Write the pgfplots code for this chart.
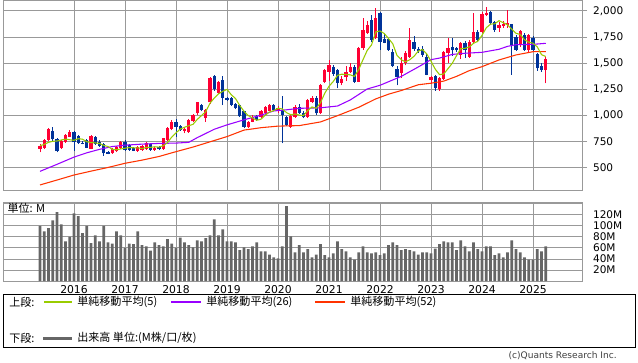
\documentclass[border=0pt]{standalone}
\usepackage{pgfplots}
\pgfplotsset{compat=1.18}
\usepackage{pgfplotstable}
\usepackage{fontspec}
\setmainfont{DejaVu Sans}
\newfontfamily\jp{Noto Sans CJK JP}
\definecolor{upred}{HTML}{FF0033}
\definecolor{dnblue}{HTML}{003399}
\definecolor{maA}{HTML}{99CC00}
\definecolor{maB}{HTML}{9900FF}
\definecolor{maC}{HTML}{FF3300}
\definecolor{gridc}{HTML}{999999}
\definecolor{volc}{HTML}{666666}

% up (red) candles
\pgfplotstableread{
i o h l c
0 685 730 650 712
1 690 775 680 768
2 768 880 760 875
5 690 770 680 755
6 750 825 740 815
7 800 860 795 845
12 685 815 680 805
17 640 690 635 678
18 665 710 655 703
19 688 760 680 752
23 665 712 655 704
24 672 715 665 710
25 681 745 675 736
27 672 700 665 694
29 681 790 675 783
30 768 890 760 880
31 870 960 860 940
34 855 880 830 870
35 842 965 835 955
36 945 1015 935 1005
37 1024 1130 1010 1126
39 976 1060 944 1056
40 1126 1370 1110 1360
42 1220 1335 1210 1325
49 890 950 885 944
50 940 1010 935 990
52 990 1050 975 1040
53 1030 1090 1010 1085
54 1045 1110 1040 1100
56 1043 1090 1030 1075
59 895 1010 880 1000
60 990 1100 980 1086
63 990 1160 980 1150
64 1134 1190 1125 1172
66 1030 1300 1020 1290
67 1325 1445 1310 1436
68 1420 1532 1330 1484
71 1315 1380 1290 1347
72 1373 1470 1330 1420
73 1420 1500 1410 1468
75 1325 1655 1320 1643
76 1643 1930 1630 1818
77 1787 1900 1780 1866
79 1739 2025 1730 1930
85 1410 1560 1360 1500
86 1500 1620 1480 1600
87 1564 1835 1550 1723
92 1340 1380 1300 1373
94 1252 1370 1240 1357
95 1347 1620 1340 1611
96 1596 1740 1500 1643
99 1580 1700 1540 1691
101 1564 1720 1555 1707
102 1707 1978 1690 1803
104 1800 1990 1790 1975
105 1960 2035 1950 1985
108 1840 1890 1800 1870
109 1860 1900 1840 1880
110 1870 2010 1840 1885
113 1675 1820 1660 1809
115 1627 1780 1600 1771
119 1436 1564 1309 1538
}\up

% down (blue) candles
\pgfplotstableread{
i o h l c
3 858 890 750 775
4 775 785 650 662
8 840 850 660 745
9 805 815 730 740
10 742 755 725 730
11 765 775 690 695
13 795 805 720 728
14 752 765 705 713
15 728 735 615 640
16 650 660 630 638
20 752 770 665 672
21 720 730 665 672
22 688 700 660 665
26 729 735 665 672
28 704 710 670 681
32 935 968 800 895
33 905 915 855 862
38 1104 1115 1040 1050
41 1375 1385 1240 1250
43 1340 1375 1100 1170
44 1168 1175 1140 1150
45 1168 1180 1095 1104
46 1110 1120 1060 1070
47 1100 1105 985 992
48 1040 1045 880 896
51 1000 1010 950 960
55 1100 1110 1045 1055
57 1054 1188 736 1006
58 990 1000 900 911
61 1080 1110 1015 1022
62 1022 1040 975 984
65 1172 1185 1010 1022
69 1468 1485 1380 1398
70 1436 1450 1260 1315
74 1468 1480 1310 1325
78 1914 1962 1700 1723
80 1978 1994 1627 1707
81 1730 1780 1690 1698
82 1730 1745 1620 1627
83 1611 1640 1460 1475
84 1450 1470 1290 1370
88 1707 1760 1620 1640
89 1640 1660 1600 1615
90 1640 1665 1560 1580
91 1564 1590 1385 1390
93 1379 1390 1240 1261
97 1659 1740 1570 1627
98 1650 1660 1610 1627
100 1691 1710 1550 1627
103 1803 1815 1700 1723
106 1990 2000 1870 1885
107 1890 1900 1800 1820
111 1875 1880 1390 1675
112 1755 1770 1620 1627
114 1771 1790 1620 1627
116 1740 1760 1620 1627
117 1589 1600 1430 1452
118 1475 1500 1420 1436
}\down

\pgfplotstableread{
i v
0 713
1 725
2 745
3 755
4 758
5 767
6 776
7 770
8 764
9 780
10 775
11 751
12 743
13 740
14 734
15 716
16 705
17 679
18 674
19 682
20 689
21 695
22 693
23 693
24 685
25 697
26 697
27 703
28 699
29 713
30 742
31 796
32 836
33 872
34 889
35 904
36 917
37 964
38 1001
39 1038
40 1119
41 1168
42 1208
43 1232
44 1251
45 1200
46 1164
47 1097
48 1042
49 1001
50 978
51 956
52 966
53 1004
54 1035
55 1048
56 1071
57 1064
58 1029
59 1009
60 1016
61 1005
62 1001
63 1048
64 1083
65 1070
66 1124
67 1214
68 1281
69 1326
70 1385
71 1396
72 1393
73 1390
74 1375
75 1441
76 1535
77 1624
78 1675
79 1800
80 1809
81 1785
82 1737
83 1687
84 1575
85 1534
86 1514
87 1534
88 1567
89 1616
90 1632
91 1590
92 1520
93 1444
94 1392
95 1398
96 1449
97 1500
98 1573
99 1640
100 1643
101 1656
102 1691
103 1710
104 1767
105 1839
106 1874
107 1878
108 1907
109 1888
110 1868
111 1826
112 1787
113 1775
114 1725
115 1702
116 1692
117 1657
118 1583
119 1565
}\maf

\pgfplotstableread{
i v
0 468
4 535
8 604
11 645
14 678
17 705
20 718
24 728
28 735
32 738
35 745
37 790
39 830
41 870
44 912
48 960
52 1005
55 1045
58 1056
61 1070
66 1075
70 1092
73 1150
77 1255
80 1290
85 1375
89 1465
92 1535
94 1550
97 1585
100 1596
104 1605
108 1634
110 1662
112 1678
116 1681
119 1691
}\mam

\pgfplotstableread{
i v
0 338
4 385
8 433
12 470
16 505
20 545
24 575
28 610
32 656
36 700
40 750
44 800
48 862
52 885
56 900
61 905
66 940
70 1000
75 1080
79 1160
82 1205
85 1240
89 1295
92 1310
95 1330
98 1375
101 1430
104 1468
108 1532
112 1580
116 1611
119 1612
}\mal

\pgfplotstableread{
i v
0 100
1 90
2 96
3 110
4 125
5 103
6 72
7 80
8 123
9 118
10 87
11 100
12 69
13 83
14 72
15 100
16 70
17 68
18 90
19 83
20 60
21 68
22 67
23 90
24 65
25 63
26 55
27 70
28 65
29 63
30 76
31 68
32 60
33 79
34 70
35 65
36 61
37 74
38 72
39 78
40 83
41 112
42 83
43 94
44 72
45 72
46 70
47 56
48 61
49 58
50 63
51 70
52 54
53 54
54 48
55 43
56 41
57 63
58 136
59 81
60 52
61 65
62 52
63 58
64 43
65 48
66 67
67 47
68 43
69 50
70 72
71 58
72 54
73 43
74 39
75 52
76 63
77 52
78 50
79 52
80 47
81 50
82 65
83 70
84 65
85 56
86 58
87 56
88 54
89 48
90 52
91 52
92 50
93 59
94 67
95 72
96 70
97 70
98 56
99 74
100 63
101 54
102 70
103 58
104 54
105 63
106 63
107 47
108 50
109 43
110 52
111 74
112 58
113 52
114 43
115 39
116 39
117 58
118 54
119 63
}\vol

\pgfplotsset{
  chartbase/.style={
    scale only axis,
    width=434.25pt,
    xmin=-8.706, xmax=127.53,
    axis line style={gridc, line width=0.75pt},
    grid style={gridc, line width=0.75pt},
    xmajorgrids, ymajorgrids,
    xtick={8,20,32,44,56,68,80,92,104,116},
    xtick style={draw=none},
    ytick pos=right,
    yticklabel pos=right,
    tick align=outside,
    major tick length=3.75pt,
    /pgf/number format/assume math mode=true,
    tick label style={font=\fontsize{7.9}{9}\selectfont, text=black},
    y tick label style={anchor=west, xshift=1pt},
    scaled y ticks=false,
  },
  candle/.style 2 args={
    mark=none, draw=none, forget plot,
    error bars/.cd, y dir=plus, y explicit, error mark=none,
    error bar style={draw=#1, draw opacity=1, line width=#2},
  },
}

\begin{document}
\begin{tikzpicture}
\useasboundingbox (0,0) rectangle (478.5pt,271.5pt);
\fill[white] (0,0) rectangle (478.5pt,271.5pt);

\begin{axis}[chartbase,
  at={(2.25pt,128.625pt)}, anchor=south west,
  height=142.5pt,
  ymin=285, ymax=2100,
  ytick={500,750,1000,1250,1500,1750,2000},
  xticklabels={},
  ytick style={gridc, line width=0.75pt},
  yticklabel style={/pgf/number format/.cd, fixed, 1000 sep={,}},
]
% wicks
\addplot[candle={upred}{0.75pt}]
  table[x=i, y=l, y error plus expr={\thisrow{h}-\thisrow{l}}] {\up};
\addplot[candle={dnblue}{0.75pt}]
  table[x=i, y=l, y error plus expr={\thisrow{h}-\thisrow{l}}] {\down};
% bodies
\addplot[candle={upred}{2.3pt}]
  table[x=i, y=o, y error plus expr={\thisrow{c}-\thisrow{o}}] {\up};
\addplot[candle={dnblue}{2.3pt}]
  table[x=i, y=c, y error plus expr={\thisrow{o}-\thisrow{c}}] {\down};
% moving averages
\addplot[maC, line width=0.8pt, mark=none] table[x=i, y=v] {\mal};
\addplot[maB, line width=0.8pt, mark=none] table[x=i, y=v] {\mam};
\addplot[maA, line width=0.8pt, mark=none] table[x=i, y=v] {\maf};
\end{axis}

\begin{axis}[chartbase,
  at={(2.25pt,60.75pt)}, anchor=south west,
  height=59.25pt,
  ymin=0, ymax=143.6,
  ytick={20,40,60,80,100,120},
  yticklabels={20M,40M,60M,80M,100M,120M},
  extra y ticks={140}, extra y tick labels={},
  ytick style={draw=none},
  xticklabels={2016,2017,2018,2019,2020,2021,2022,2023,2024,2025},
  x tick label style={font=\fontsize{8.1}{9}\selectfont, yshift=3.9pt},
]
\addplot[ybar, bar width=2.1pt, fill=volc, draw=none] table[x=i, y=v] {\vol};
\end{axis}

\node[anchor=west, inner sep=0, font=\jp\fontsize{8.3}{10}\selectfont] at (5.5pt,115.5pt) {単位: M};

% legend box
\draw[black, line width=0.75pt] (2.25pt,11.25pt) rectangle (476.25pt,51pt);
\begin{scope}[every node/.style={anchor=west, inner sep=0, font=\jp\fontsize{8.3}{10}\selectfont}]
\node at (6.75pt,45pt) {上段:};
\draw[maA, line width=0.8pt] (33pt,45pt) -- (54pt,45pt);
\node at (57.75pt,45pt) {単純移動平均(5)};
\draw[maB, line width=0.8pt] (128.25pt,45pt) -- (150.75pt,45pt);
\node at (154.5pt,45pt) {単純移動平均(26)};
\draw[maC, line width=0.8pt] (236.25pt,45pt) -- (258.75pt,45pt);
\node at (262.5pt,45pt) {単純移動平均(52)};
\node at (6.75pt,18pt) {下段:};
\draw[volc, line width=2.25pt] (32.25pt,18pt) -- (54pt,18pt);
\node at (57.75pt,18pt) {出来高 単位:(M株/口/枚)};
\end{scope}
\node[anchor=east, inner sep=0, font=\fontsize{6.8}{8}\selectfont, text=black!75] at (462.75pt,4.5pt) {(c)Quants Research Inc.};
\end{tikzpicture}
\end{document}
